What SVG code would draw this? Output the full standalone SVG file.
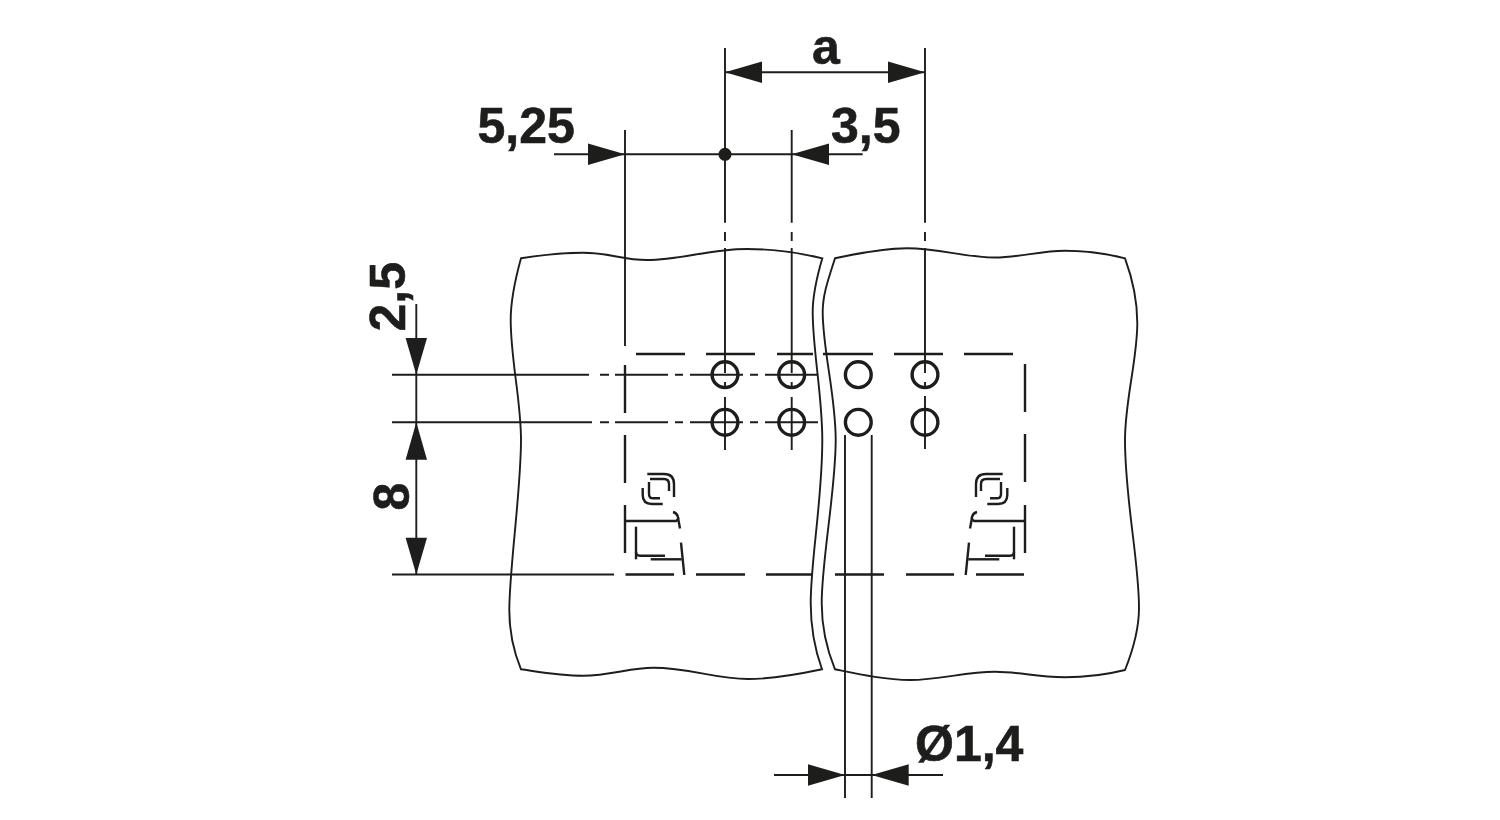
<svg xmlns="http://www.w3.org/2000/svg" xmlns:xlink="http://www.w3.org/1999/xlink" width="1500" height="820" viewBox="0 0 1500 820">
<style>
.l{fill:none;stroke:#1d1d1b;stroke-width:1.9}
.d{stroke-width:2.4}
.c{fill:none;stroke:#1d1d1b;stroke-width:3.4}
.h{fill:#1d1d1b;stroke:none}
.t{font-family:"Liberation Sans",Arial,sans-serif;font-weight:bold;font-size:50px;fill:#1d1d1b;stroke:#1d1d1b;stroke-width:.6}
</style>
<defs>
<g id="sym" class="l d">
<path d="M647.300 474H664Q674 474 674 484V497"/>
<path d="M650 479H664Q669 479 669 484V491"/>
<path d="M649 482V494Q649 498.300 653 498.300H660"/>
<path d="M642.700 488V495Q642.700 504 652 504H662.700"/>
<path d="M625 521H676Q679 519 678 517Q677 513 673 512"/>
<path d="M678 518L680 528.500"/>
<path d="M636 526.700V559.300"/>
<path d="M636 552Q636 555.700 640 555.700H665"/>
<path d="M650.700 559.300H681.700"/>
<path d="M681 542.700L684.300 575"/>
</g>
</defs>
<rect width="1500" height="820" fill="#fff"/>
<g id="panels" class="l">
<path id="panel-left" d="M521 258.300C542 255 562 252.700 583 252.700C610 252.700 622 260 647 260C680 260 710 249 747 249C775 249 800 253 822.300 258.300C816 280 812.700 295 812.700 312C812.700 350 822.300 395 822.300 440C822.300 500 810.700 560 810.700 603C810.700 630 815 650 822 669.300C800 674 775 679 748 679C715 679 690 667.700 653 667.700C630 667.700 610 675.700 583 675.700C560 675.700 540 672 521 669.300C513 650 509.300 630 509.300 610C509.300 570 521 490 521 440C521 400 510.700 360 510.700 320C510.700 300 515 280 521 258.300Z"/>
<path id="panel-right" d="M835 258.300C860 253 885 248.300 907 248.300C940 248.300 965 257.500 995 257.500C1020 257.500 1040 250.700 1065 250.700C1090 250.700 1108 254 1125 258.300C1133 280 1137.300 300 1137.300 323C1137.300 360 1125 400 1125 440C1125 500 1139 560 1139 608C1139 630 1133 650 1125 670C1105 675 1085 677.300 1065 677.300C1035 677.300 1020 671.700 995 671.700C965 671.700 940 680 910 680C885 680 858 674 835 669.300C827 650 821.700 625 821.700 603C821.700 560 835.700 490 835.700 440C835.700 395 822.700 350 822.700 312C822.700 295 828 280 835 258.300Z"/>
</g>
<g id="holes">
<circle class="c" cx="725" cy="374.700" r="12.900"/>
<circle class="c" cx="791.700" cy="374.700" r="12.900"/>
<circle class="c" cx="858.300" cy="374.700" r="12.900"/>
<circle class="c" cx="925" cy="374.700" r="12.900"/>
<circle class="c" cx="725" cy="422.300" r="12.900"/>
<circle class="c" cx="791.700" cy="422.300" r="12.900"/>
<circle class="c" cx="858.300" cy="422.300" r="12.900"/>
<circle class="c" cx="925" cy="422.300" r="12.900"/>
</g>
<g id="outline" class="l d">
<path d="M636 354H685M706 354H755M777 354H813M823 354H873M894 354H943M964 354H1013"/>
<path d="M1025 364V412M1025 434V482M1025 505V553"/>
<path d="M625 365V413M625 435V483M625 505V553"/>
<path d="M625.500 574.500H674M696 574.500H745M766 574.500H813M835 574.500H884M906 574.500H954M976 574.500H1024"/>
</g>
<g id="symbol-left"><use xlink:href="#sym" href="#sym"/></g>
<g id="symbol-right"><use xlink:href="#sym" href="#sym" transform="translate(1650 0) scale(-1 1)"/></g>
<g id="connectors">
<g class="l">
<path d="M392 374.700H589M600 374.700H609M615 374.700H668M675 374.700H683M690 374.700H743M750 374.700H758M765 374.700H818"/>
<path d="M392 422.300H592M600 422.300H609M615 422.300H668M675 422.300H683M690 422.300H743M750 422.300H758M765 422.300H818"/>
<path d="M392 574.500H614"/>
<path d="M625 130V346"/>
<path d="M725 48V222.700M725 232V241M725 248V373M725 382V389M725 397V450"/>
<path d="M791.700 130V222.700M791.700 232V241M791.700 248V373M791.700 382V389M791.700 397V450"/>
<path d="M925 48V222.700M925 232V241M925 248V373M925 382V389M925 396V449"/>
<path d="M845 435V798M871.700 435V798"/>
<path d="M725 72.300H925"/>
<path d="M554 154.300H862.700"/>
<path d="M416.300 304V574.500"/>
<path d="M774 775H943"/>
</g>
<g class="h">
<path d="M725 72.300L762 61.600V83L725 72.300Z"/>
<path d="M925 72.300L888 61.600V83L925 72.300Z"/>
<path d="M625 154.300L588 143.600V165L625 154.300Z"/>
<path d="M791.700 154.300L829 143.600V165L791.700 154.300Z"/>
<circle cx="725" cy="154.300" r="6.500"/>
<path d="M416.300 374.700L405.600 338H427L416.300 374.700Z"/>
<path d="M416.300 422.300L405.600 459.700H427L416.300 422.300Z"/>
<path d="M416.300 574.500L405.600 537.700H427L416.300 574.500Z"/>
<path d="M845 775L808 764.300V785.700L845 775Z"/>
<path d="M871.700 775L908.700 764.300V785.700L871.700 775Z"/>
</g>
</g>
<g id="labels">
<text class="t" x="826" y="63.500" text-anchor="middle">a</text>
<text class="t" x="477.500" y="142.500">5,25</text>
<text class="t" x="831" y="142.500">3,5</text>
<text class="t" x="915" y="760.500">Ø1,4</text>
<text class="t" transform="translate(405 331.500) rotate(-90)">2,5</text>
<text class="t" transform="translate(409 510.500) rotate(-90)">8</text>
</g>
</svg>
